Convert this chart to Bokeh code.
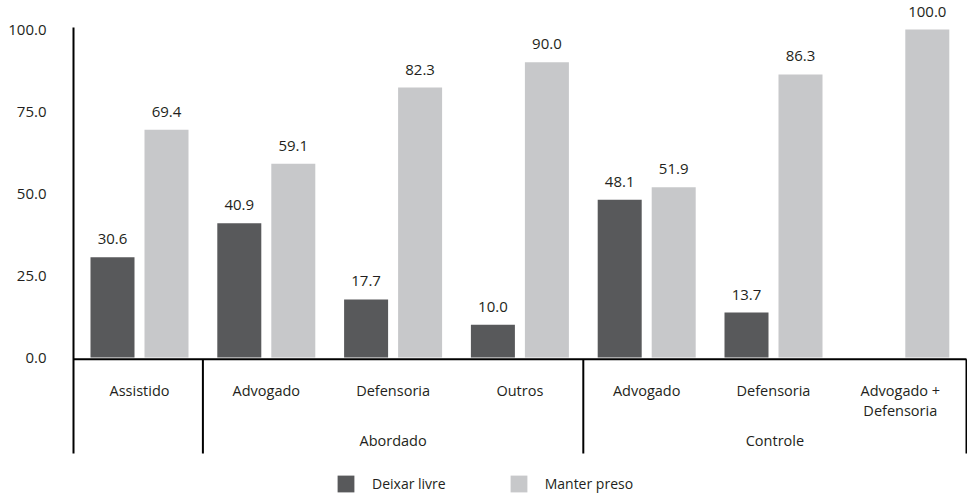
from bokeh.plotting import figure
from bokeh.models import (ColumnDataSource, Range1d, FixedTicker, NumeralTickFormatter,
                          Legend, LegendItem)
from bokeh.core.properties import value
from bokeh.embed import file_html
from bokeh.resources import INLINE

# ---- data -------------------------------------------------------------
categories = ["Assistido", "Advogado", "Defensoria", "Outros",
              "Advogado", "Defensoria", "Advogado +\nDefensoria"]
groups = ["Abordado", "Controle"]
deixar_livre = [30.6, 40.9, 17.7, 10.0, 48.1, 13.7, float("nan")]
manter_preso = [69.4, 59.1, 82.3, 90.0, 51.9, 86.3, 100.0]
y_ticks = [0, 25, 50, 75, 100]

# ---- layout -----------------------------------------------------------
W, H = 967, 498
FRAME_LEFT = 70
PITCH = 126.8           # px per category
FIRST_CENTER = 139      # px, centre of the first category
PPU = 3.28              # px per percentage point
ZERO_Y = 357            # px, vertical position of 0

frame_w = W - FRAME_LEFT
x_start = -(FIRST_CENTER - FRAME_LEFT) / PITCH
x_end = x_start + frame_w / PITCH
y_end = ZERO_Y / PPU
y_start = -(H - ZERO_Y) / PPU


def px_x(px):
    return (px - FIRST_CENTER) / PITCH


def px_y(px):
    return (ZERO_Y - px) / PPU


DARK = "#58595b"
LIGHT = "#c7c8ca"
INK = "#231f20"
FONT = value("Open Sans")

p = figure(width=W, height=H, output_backend="svg", toolbar_location=None,
           x_range=Range1d(x_start, x_end), y_range=Range1d(y_start, y_end),
           min_border_left=FRAME_LEFT, min_border_top=0,
           min_border_right=0, min_border_bottom=0,
           x_axis_location=None)
p.outline_line_color = None
p.grid.visible = False
p.background_fill_color = "white"

# y axis: labels only, the axis line is drawn as a segment below
ya = p.yaxis[0]
ya.ticker = FixedTicker(ticks=y_ticks)
ya.formatter = NumeralTickFormatter(format="0.0")
ya.axis_line_color = None
ya.major_tick_line_color = None
ya.minor_tick_line_color = None
ya.major_tick_out = 0
ya.major_tick_in = 0
ya.minor_tick_out = 0
ya.major_label_standoff = 24
ya.major_label_text_font = "Open Sans"
ya.major_label_text_font_size = "15px"
ya.major_label_text_color = INK

# ---- bars -------------------------------------------------------------
n = len(categories)
idx = list(range(n))
BAR_W = 44 / PITCH
OFF = 27 / PITCH

src = ColumnDataSource(dict(
    xd=[i - OFF for i in idx], xl=[i + OFF for i in idx],
    dark=deixar_livre, light=manter_preso,
    dark_lbl=["" if v != v else f"{v:.1f}" for v in deixar_livre],
    light_lbl=[f"{v:.1f}" for v in manter_preso],
))
r_dark = p.vbar(x="xd", top="dark", width=BAR_W, bottom=0, source=src,
                fill_color=DARK, line_color=None)
r_light = p.vbar(x="xl", top="light", width=BAR_W, bottom=0, source=src,
                 fill_color=LIGHT, line_color=None)

for xcol, ycol, lcol in (("xd", "dark", "dark_lbl"), ("xl", "light", "light_lbl")):
    p.text(x=xcol, y=ycol, text=lcol, source=src, text_align="center",
           text_baseline="alphabetic", y_offset=-18, text_font=FONT,
           text_font_size="15px", text_color=INK)

# ---- category axis lines ------------------------------------------------
axis_x0 = px_x(73)
axis_x1 = px_x(966)
top_y = px_y(27)
base_y = px_y(358.7)
low_y = px_y(453)
sep_x = [axis_x0, 0.5, 3.5, axis_x1]
p.segment(x0=[axis_x0], y0=[top_y], x1=[axis_x0], y1=[low_y],
          line_color="black", line_width=2)
p.segment(x0=[axis_x0], y0=[base_y], x1=[axis_x1], y1=[base_y],
          line_color="black", line_width=2)
p.segment(x0=sep_x[1:], y0=[base_y] * 3, x1=sep_x[1:], y1=[low_y] * 3,
          line_color="black", line_width=2)

# category labels (multi-line labels split into rows)
cx, cy, ct, coff = [], [], [], []
for i, lab in enumerate(categories):
    for k, line in enumerate(lab.split("\n")):
        cx.append(i)
        cy.append(px_y(390))
        ct.append(line)
        coff.append(20 * k)
p.text(x=cx, y=cy, text=ct, y_offset=coff, text_align="center",
       text_baseline="alphabetic", text_font=FONT, text_font_size="14.5px",
       text_color=INK)

# group labels
gx = [(sep_x[1] + sep_x[2]) / 2, (sep_x[2] + sep_x[3]) / 2]
p.text(x=gx, y=[px_y(440)] * 2, text=groups, text_align="center",
       text_baseline="alphabetic", text_font=FONT, text_font_size="14.5px",
       text_color=INK)

# ---- legend -------------------------------------------------------------
legend = Legend(items=[LegendItem(label="Deixar livre", renderers=[r_dark]),
                       LegendItem(label="Manter preso", renderers=[r_light])],
                orientation="horizontal", location=(335 - FRAME_LEFT, H - 494),
                glyph_width=21, glyph_height=21, label_standoff=16, spacing=62,
                padding=0, margin=0, border_line_color=None,
                background_fill_alpha=0, label_text_font="Open Sans",
                label_text_font_size="14px", label_text_color=INK)
p.add_layout(legend)

open("out.html", "w").write(file_html(p, INLINE))
